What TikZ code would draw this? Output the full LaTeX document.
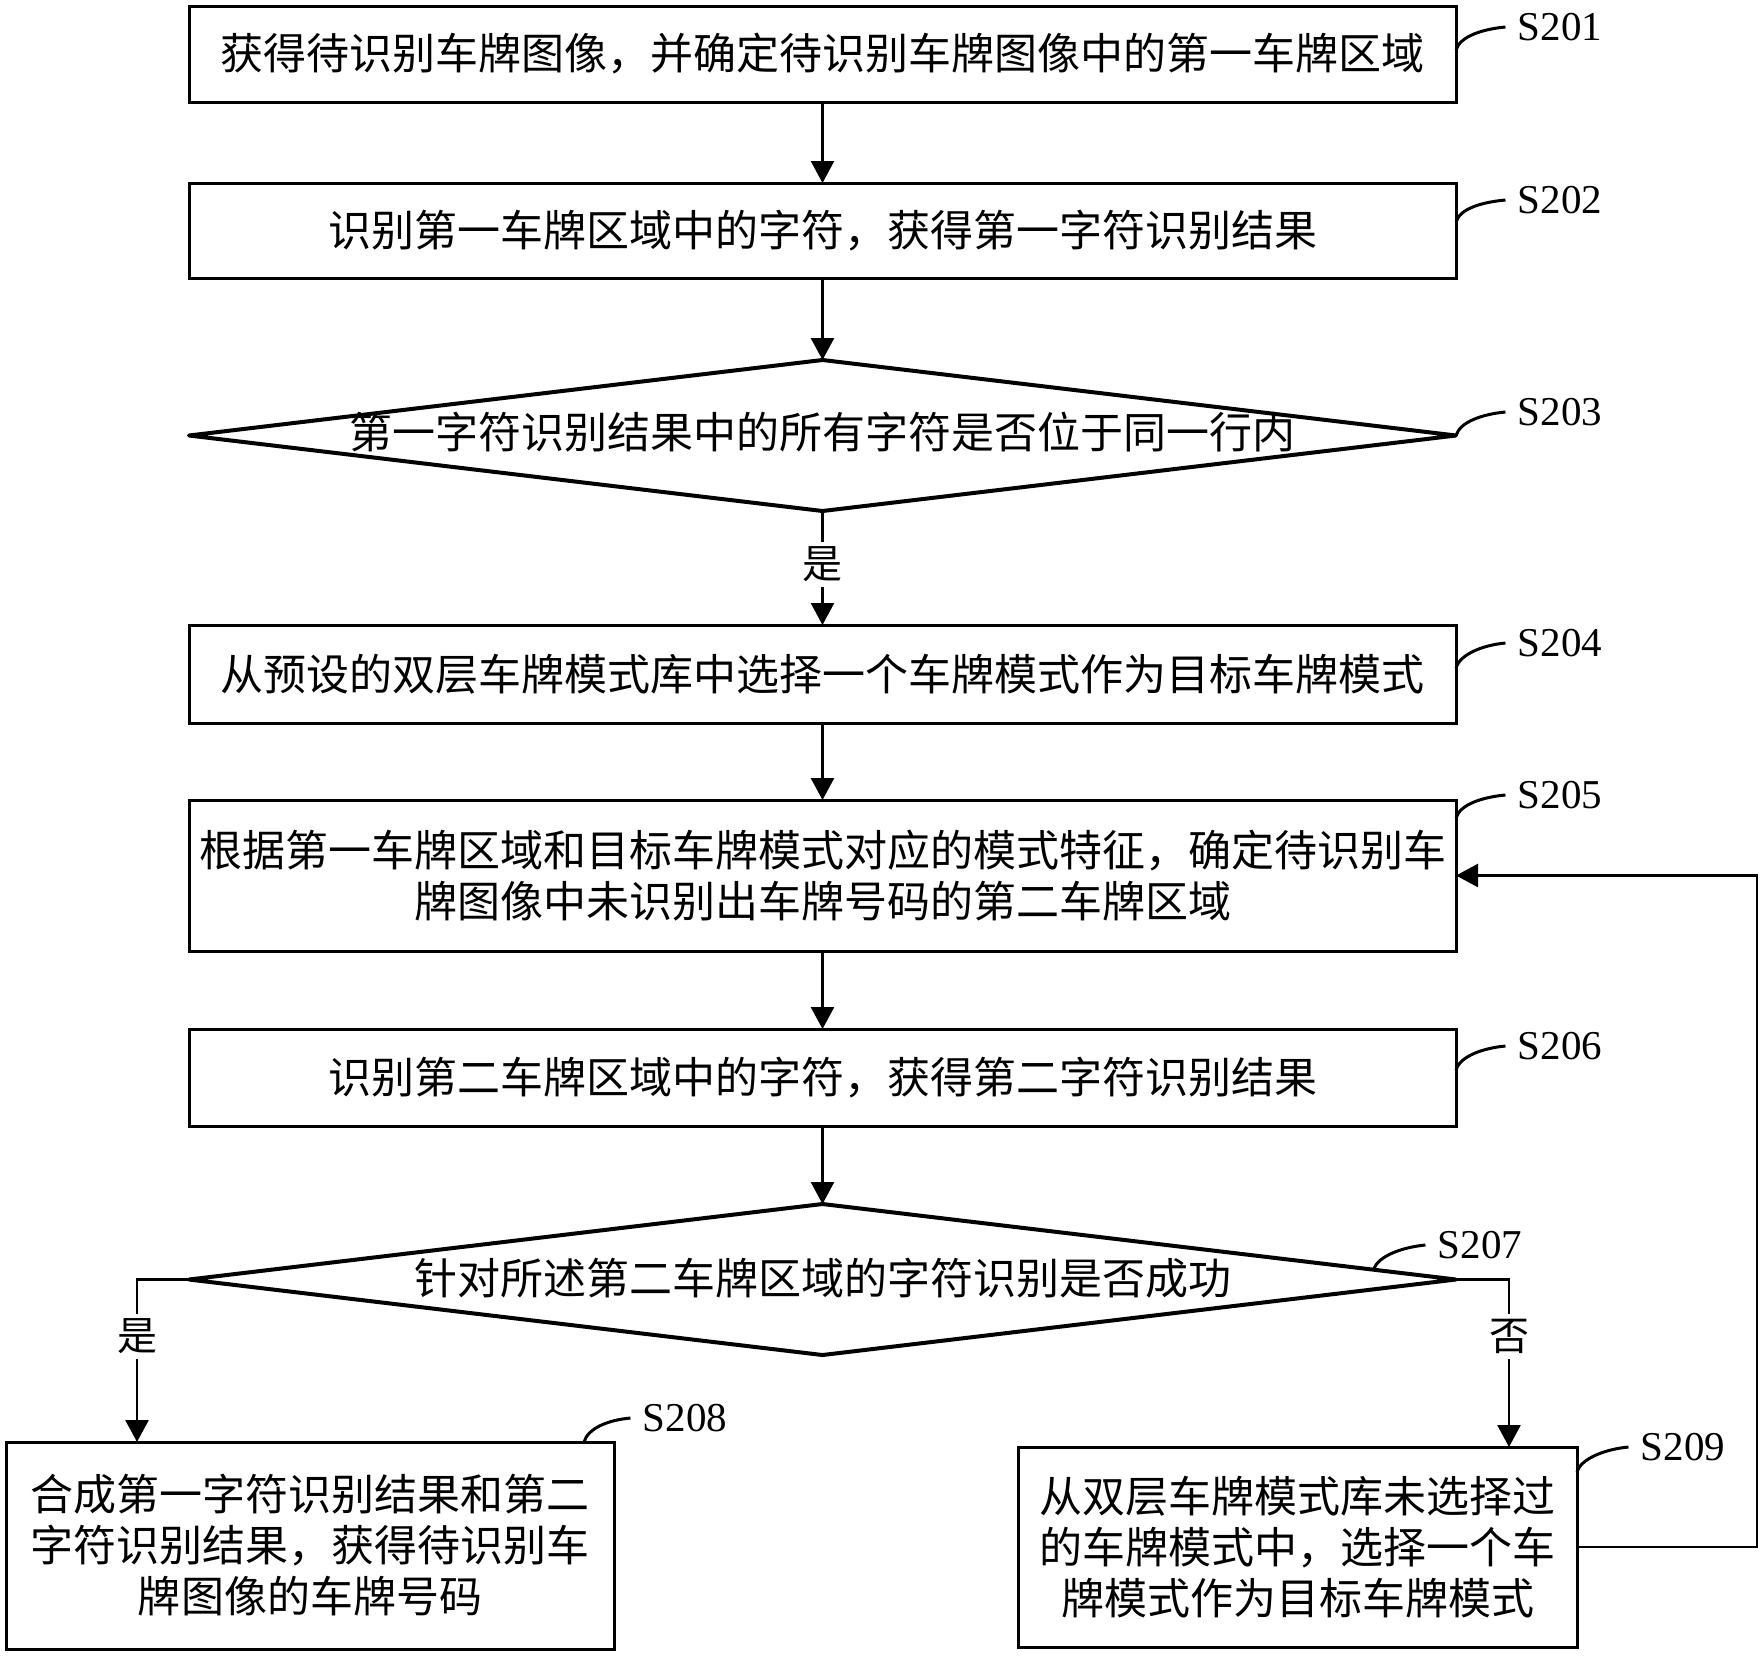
\documentclass[tikz,border=0pt]{standalone}
\usepackage{fontspec}
\setmainfont{Liberation Serif}
\newfontfamily\cjk{Noto Sans CJK SC}
\usetikzlibrary{arrows.meta,shapes.geometric,calc}
\begin{document}
\begin{tikzpicture}[x=0.5pt,y=-0.5pt,
  box/.style={draw, line width=1.5pt, inner sep=0pt, outer sep=0pt, align=center,
    font=\fontsize{21.5}{25.5}\selectfont\cjk},
  dia/.style={draw, diamond, line width=2pt, line join=round, inner sep=0pt, outer sep=0pt,
    minimum width=633.5pt, minimum height=75.5pt},
  diatext/.style={font=\fontsize{21.5}{25.5}\selectfont\cjk, inner sep=0pt},
  arr/.style={line width=1.3pt, -{Triangle[length=11pt,width=11.5pt]}},
  yn/.style={fill=white, inner xsep=1pt, inner ysep=2.5pt, font=\fontsize{20}{24}\selectfont\cjk},
  steplab/.style={inner xsep=6pt, inner ysep=0pt, font=\fontsize{20.5}{24}\selectfont},
  curv/.style={line width=1.5pt}
]
\useasboundingbox (0,0) rectangle (1760,1655);

% boxes
\node[box, minimum width=633.5pt, minimum height=48pt] (b1) at (822.5,54)
  {获得待识别车牌图像，并确定待识别车牌图像中的第一车牌区域};
\node[box, minimum width=633.5pt, minimum height=47.5pt] (b2) at (822.5,230.5)
  {识别第一车牌区域中的字符，获得第一字符识别结果};
\node[dia] (d3) at (822.5,435.5) {};
\node[diatext] (t3) at (822.5,432) {第一字符识别结果中的所有字符是否位于同一行内};
\node[box, minimum width=633.5pt, minimum height=49pt] (b4) at (822.5,674)
  {从预设的双层车牌模式库中选择一个车牌模式作为目标车牌模式};
\node[box, minimum width=633.5pt, minimum height=75.5pt] (b5) at (822.5,875.5)
  {根据第一车牌区域和目标车牌模式对应的模式特征，确定待识别车\\牌图像中未识别出车牌号码的第二车牌区域};
\node[box, minimum width=633.5pt, minimum height=48.5pt] (b6) at (822.5,1077.5)
  {识别第二车牌区域中的字符，获得第二字符识别结果};
\node[dia] (d7) at (822.5,1279.5) {};
\node[diatext] (t7) at (822.5,1278) {针对所述第二车牌区域的字符识别是否成功};
\node[box, minimum width=304pt, minimum height=103.5pt] (b8) at (310,1545.5)
  {合成第一字符识别结果和第二\\字符识别结果，获得待识别车\\牌图像的车牌号码};
\node[box, minimum width=279.5pt, minimum height=100pt] (b9) at (1297.5,1547)
  {从双层车牌模式库未选择过\\的车牌模式中，选择一个车\\牌模式作为目标车牌模式};

% main flow
\draw[arr] (b1) -- (b2);
\draw[arr] (b2) -- (d3.north);
\draw[arr] (d3.south) -- node[yn, pos=0.47] {是} (b4.north);
\draw[arr] (b4) -- (b5);
\draw[arr] (b5) -- (b6);
\draw[arr] (b6) -- (d7.north);

% branches
\coordinate (ly) at (137,1279.5);
\coordinate (ny) at (1509,1279.5);
\draw[arr] (d7.west) -- (ly) -- node[yn, pos=0.35] {是} (ly |- b8.north);
\draw[arr] (d7.east) -- (ny) -- node[yn, pos=0.34] {否} (ny |- b9.north);

% feedback
\coordinate (fb) at (1757,0);
\draw[arr] (b9.east) -- (b9.east -| fb) |- (b5.east);

% step labels
\node[steplab] (l1) at (1560,27) {S201};
\node[steplab] (l2) at (1560,200) {S202};
\node[steplab] (l3) at (1560,412) {S203};
\node[steplab] (l4) at (1560,643) {S204};
\node[steplab] (l5) at (1560,795) {S205};
\node[steplab] (l6) at (1560,1046) {S206};
\node[steplab] (l7) at (1480,1245) {S207};
\node[steplab] (l8) at (685,1418) {S208};
\node[steplab] (l9) at (1683,1447) {S209};

\draw[curv] ($(b1.north east)+(0,44)$) .. controls +(4,-14) and +(-22,2) .. (l1.west);
\draw[curv] ($(b2.north east)+(0,39)$) .. controls +(4,-14) and +(-22,2) .. (l2.west);
\draw[curv] (d3.east) .. controls +(4,-14) and +(-22,2) .. (l3.west);
\draw[curv] ($(b4.north east)+(0,43)$) .. controls +(4,-14) and +(-22,2) .. (l4.west);
\draw[curv] ($(b5.north east)+(0,18)$) .. controls +(4,-14) and +(-22,2) .. (l5.west);
\draw[curv] ($(b6.north east)+(0,41)$) .. controls +(4,-14) and +(-22,2) .. (l6.west);
\draw[curv] ($(d7.north)!0.87!(d7.east)$) .. controls +(4,-14) and +(-22,2) .. (l7.west);
\draw[curv] ($(b8.north east)+(-30,0)$) .. controls +(4,-14) and +(-22,2) .. (l8.west);
\draw[curv] ($(b9.north east)+(0,25)$) .. controls +(4,-14) and +(-22,2) .. (l9.west);
\end{tikzpicture}
\end{document}
